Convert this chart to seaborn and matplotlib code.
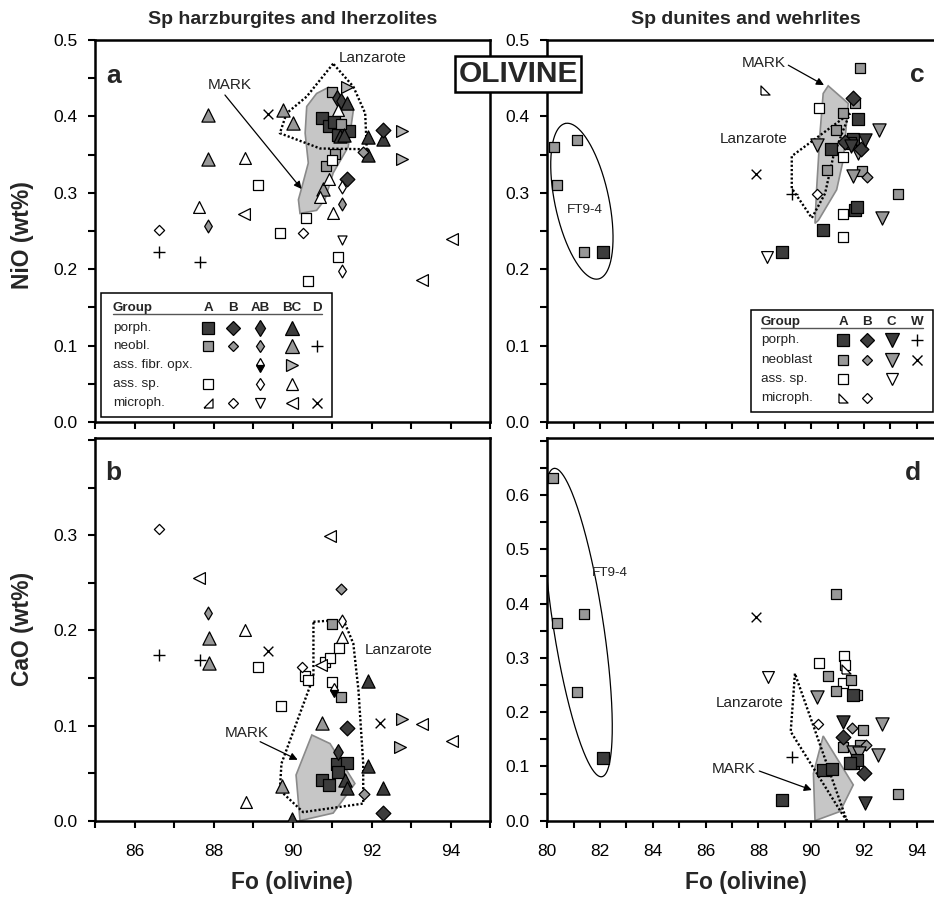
import numpy as np
import pandas as pd
import matplotlib
matplotlib.use("Agg")
import matplotlib.pyplot as plt
import seaborn as sns
from matplotlib.lines import Line2D
from matplotlib.patches import Polygon, Rectangle

sns.set_theme(style="ticks")
plt.rcParams["font.family"] = ["Liberation Sans", "DejaVu Sans"]

# ---------------- data ----------------
# panel a : NiO (wt%) vs Fo, Sp harzburgites and lherzolites
a_group = (["porph A"] * 5 + ["neo A"] * 4 + ["porph AB"] * 2 + ["porph BC"] * 6 + ["porph B"] * 2
           + ["neo BC"] * 5 + ["neo AB"] * 2 + ["neo B"] + ["neo D"] * 2 + ["fibr BC"] * 3
           + ["ssp A"] * 6 + ["ssp AB"] * 2 + ["ssp BC"] * 6 + ["micro B"] * 2 + ["micro AB"]
           + ["micro BC"] * 3 + ["micro D"])
a_fo = [90.74, 90.92, 91.15, 91.42, 91.05,
        90.99, 91.24, 90.86, 91.08,
        91.12, 91.22,
        91.37, 91.20, 91.30, 91.90, 92.30, 91.92,
        92.28, 91.39,
        87.87, 87.87, 89.75, 90.00, 90.78,
        87.87, 91.26,
        91.79,
        86.63, 87.67,
        91.39, 92.78, 92.78,
        89.12, 89.68, 90.33, 90.40, 91.16, 90.99,
        91.26, 91.26,
        88.81, 87.63, 91.03, 90.70, 90.93, 91.16,
        86.63, 90.26,
        91.26,
        88.76, 94.03, 93.27,
        89.39]
a_nio = [0.398, 0.387, 0.376, 0.381, 0.393,
         0.432, 0.390, 0.335, 0.351,
         0.424, 0.420,
         0.417, 0.374, 0.376, 0.373, 0.370, 0.349,
         0.382, 0.318,
         0.402, 0.344, 0.409, 0.392, 0.305,
         0.257, 0.285,
         0.353,
         0.222, 0.209,
         0.438, 0.381, 0.344,
         0.310, 0.248, 0.267, 0.185, 0.216, 0.343,
         0.307, 0.198,
         0.345, 0.281, 0.274, 0.295, 0.318, 0.408,
         0.251, 0.248,
         0.238,
         0.272, 0.240, 0.186,
         0.403]

# panel b : CaO (wt%) vs Fo, Sp harzburgites and lherzolites
b_group = (["ssp A"] * 8 + ["ssp AB"] + ["ssp BC"] * 3 + ["micro B"] * 2 + ["micro BC"] * 5
           + ["micro D"] * 2 + ["neo A"] * 2 + ["neo BC"] * 4 + ["neo AB"] + ["neo B"] * 2
           + ["neo D"] * 2 + ["fibr AB"] + ["fibr BC"] * 2 + ["porph A"] * 5 + ["porph B"] * 2
           + ["porph AB"] + ["porph BC"] * 6)
b_fo = [89.12, 89.70, 90.32, 90.40, 90.82, 90.95, 91.18, 90.99,
        91.25,
        88.80, 88.82, 91.25,
        86.63, 90.25,
        87.64, 90.95, 90.71, 93.27, 94.03,
        89.39, 92.22,
        90.99, 91.24,
        87.89, 87.89, 89.74, 90.75,
        87.87,
        91.22, 91.81,
        86.63, 87.66,
        91.05,
        92.78, 92.72,
        91.12, 91.39, 91.16, 90.74, 90.93,
        91.37, 92.30,
        91.16,
        89.98, 91.33, 91.37, 91.92, 91.92, 92.30]
b_cao = [0.161, 0.120, 0.152, 0.148, 0.167, 0.171, 0.181, 0.146,
         0.210,
         0.200, 0.020, 0.193,
         0.306, 0.161,
         0.255, 0.299, 0.164, 0.102, 0.084,
         0.178, 0.103,
         0.207, 0.130,
         0.192, 0.166, 0.036, 0.103,
         0.218,
         0.243, 0.028,
         0.174, 0.169,
         0.137,
         0.107, 0.077,
         0.060, 0.061, 0.051, 0.043, 0.037,
         0.097, 0.008,
         0.072,
         0.002, 0.043, 0.034, 0.147, 0.057, 0.034]

# panel c : NiO (wt%) vs Fo, Sp dunites and wehrlites
c_group = (["ssp A"] * 4 + ["ssp C"] + ["micro A"] + ["micro B"] + ["neo W"] + ["porph W"]
           + ["neo A"] * 11 + ["neo B"] + ["neo C"] * 5 + ["porph A"] * 9 + ["porph B"] * 3
           + ["porph C"] * 2)
c_fo = [90.29, 91.21, 91.21, 91.21,
        88.33,
        88.24,
        90.23,
        87.89,
        89.26,
        80.25, 81.11, 80.38, 81.39, 91.84, 91.21, 91.66, 90.94, 90.58, 91.91, 93.27,
        92.10,
        92.58, 90.20, 91.78, 91.59, 92.66,
        82.10, 91.76, 90.73, 91.59, 91.66, 91.74, 90.45, 88.90, 91.45,
        91.59, 91.28, 91.90,
        92.03, 91.50]
c_nio = [0.411, 0.347, 0.272, 0.242,
         0.216,
         0.435,
         0.298,
         0.325,
         0.298,
         0.360, 0.369, 0.310, 0.222, 0.463, 0.405, 0.417, 0.382, 0.330, 0.328, 0.299,
         0.321,
         0.382, 0.363, 0.352, 0.322, 0.267,
         0.223, 0.397, 0.357, 0.371, 0.277, 0.282, 0.251, 0.222, 0.365,
         0.424, 0.366, 0.357,
         0.369, 0.361]

# panel d : CaO (wt%) vs Fo, Sp dunites and wehrlites
d_group = (["ssp A"] * 4 + ["ssp C"] + ["micro A"] + ["micro B"] + ["neo W"] + ["porph W"]
           + ["neo A"] * 13 + ["neo B"] * 2 + ["neo C"] * 5 + ["porph A"] * 8 + ["porph B"] * 2
           + ["porph C"] * 2)
d_fo = [90.30, 91.24, 91.28, 91.21,
        88.37,
        91.30,
        90.27,
        87.89,
        89.26,
        80.23, 80.38, 81.39, 81.11, 90.94, 90.64, 91.49, 90.94, 91.72, 91.97, 91.21, 91.84, 93.30,
        91.53, 92.07,
        90.23, 92.66, 91.59, 92.54, 91.80,
        82.10, 91.57, 91.59, 91.72, 91.47, 90.43, 90.77, 88.88,
        91.19, 92.00,
        91.21, 92.03]
d_cao = [0.291, 0.303, 0.287, 0.254,
         0.265,
         0.280,
         0.179,
         0.376,
         0.118,
         0.632, 0.365, 0.380, 0.238, 0.417, 0.266, 0.260, 0.239, 0.231, 0.168, 0.136, 0.139, 0.049,
         0.170, 0.139,
         0.228, 0.179, 0.127, 0.121, 0.124,
         0.115, 0.231, 0.107, 0.111, 0.106, 0.093, 0.095, 0.039,
         0.154, 0.088,
         0.182, 0.032]

# reference fields
a_mark_fo = [90.91, 91.54, 91.41, 91.03, 90.82, 90.61, 90.19, 90.15, 90.23, 90.40, 90.32, 90.36, 90.61]
a_mark_y = [0.438, 0.408, 0.360, 0.326, 0.291, 0.277, 0.273, 0.291, 0.306, 0.339, 0.378, 0.413, 0.430]
a_lanz_fo = [91.03, 90.36, 89.85, 89.68, 90.70, 91.88, 91.84, 91.54]
a_lanz_y = [0.469, 0.426, 0.404, 0.378, 0.358, 0.357, 0.404, 0.439]

b_mark_fo = [90.09, 90.49, 90.95, 91.58, 91.03, 90.19]
b_mark_y = [0.048, 0.090, 0.081, 0.039, 0.008, 0.000]
b_lanz_fo = [90.53, 91.29, 91.54, 91.67, 91.79, 91.79, 90.27, 89.68, 89.72, 90.53]
b_lanz_y = [0.209, 0.211, 0.186, 0.137, 0.060, 0.018, 0.009, 0.032, 0.060, 0.151]

c_mark_fo = [90.64, 91.40, 91.21, 90.96, 90.27, 90.14, 90.20, 90.33, 90.45]
c_mark_y = [0.440, 0.417, 0.343, 0.304, 0.264, 0.260, 0.304, 0.378, 0.430]
c_lanz_fo = [91.46, 89.26, 89.26, 90.02, 90.52, 90.83, 91.21]
c_lanz_y = [0.404, 0.348, 0.306, 0.267, 0.299, 0.347, 0.382]

d_mark_fo = [90.45, 91.59, 91.09, 90.14, 90.08]
d_mark_y = [0.156, 0.066, 0.017, 0.000, 0.087]
d_lanz_fo = [89.38, 89.22, 91.15, 91.34]
d_lanz_y = [0.271, 0.164, 0.014, 0.001]

# ---------------- styles ----------------
DARK = "#3c3c3c"
GRAY = "#989898"
LGRAY = "#b4b4b4"
WHITE = "white"
TRI_A = [(-1, -1), (1, -1), (1, 1), (-1, -1)]
TRI_C = [(-1, -1), (1, -1), (-1, 1), (-1, -1)]
STYLE = {
    "porph A": ("s", DARK, 9.0), "porph B": ("D", DARK, 7.5), "porph AB": ("d", DARK, 8.0),
    "porph BC": ("^", DARK, 9.5), "porph C": ("v", DARK, 9.5), "porph W": ("+", "black", 9.0),
    "neo A": ("s", GRAY, 7.0), "neo B": ("D", GRAY, 5.5), "neo AB": ("d", GRAY, 6.5),
    "neo BC": ("^", GRAY, 9.5), "neo C": ("v", GRAY, 9.5), "neo D": ("+", "black", 9.0),
    "neo W": ("x", "black", 7.0),
    "fibr AB": ("d", "black", 7.0), "fibr BC": (">", LGRAY, 8.5),
    "ssp A": ("s", WHITE, 7.0), "ssp AB": ("d", WHITE, 6.5), "ssp BC": ("^", WHITE, 8.5),
    "ssp C": ("v", WHITE, 8.5),
    "micro A": (TRI_C, WHITE, 6.5), "micro A2": (TRI_A, WHITE, 6.5), "micro B": ("D", WHITE, 5.2),
    "micro AB": ("v", WHITE, 6.5), "micro BC": ("<", WHITE, 8.5), "micro D": ("x", "black", 7.0),
}

W, H = 934, 897
fig = plt.figure(figsize=(W / 100, H / 100), dpi=100)


def axes_px(l, t, r, b):
    return fig.add_axes([l / W, 1 - b / H, (r - l) / W, (b - t) / H])


ax_a = axes_px(95, 40, 490, 422)
ax_b = axes_px(95, 438, 490, 820.7)
ax_c = axes_px(547.3, 40, 943.3, 422)
ax_d = axes_px(547.3, 438, 943.3, 820.7)


def draw_points(ax, groups, xs, ys):
    df = pd.DataFrame({"g": groups, "x": xs, "y": ys})
    for g, sub in df.groupby("g", sort=False):
        mk, fc, ms = STYLE[g]
        if g == "fibr AB":
            ax.plot(sub["x"], sub["y"], ls="none", marker="d", ms=ms, mfc="black",
                    mfcalt="white", fillstyle="bottom", mec="black", mew=0.9, zorder=3)
        elif mk in ("+", "x"):
            sns.scatterplot(data=sub, x="x", y="y", ax=ax, marker=mk, s=ms ** 2,
                            color="black", linewidth=1.0, zorder=3, legend=False)
        else:
            sns.scatterplot(data=sub, x="x", y="y", ax=ax, marker=mk, s=ms ** 2,
                            color=fc, edgecolor="black", linewidth=0.9, zorder=3, legend=False)


def draw_fields(ax, mfo, my, lfo, ly):
    ax.add_patch(Polygon(np.column_stack([mfo, my]), closed=True, fc="#c6c6c6",
                         ec="#8a8a8a", lw=1.2, zorder=1))
    ax.plot(list(lfo) + [lfo[0]], list(ly) + [ly[0]], color="black", lw=1.7,
            ls=(0, (0.9, 0.9)), zorder=2.5)


draw_fields(ax_a, a_mark_fo, a_mark_y, a_lanz_fo, a_lanz_y)
draw_fields(ax_b, b_mark_fo, b_mark_y, b_lanz_fo, b_lanz_y)
draw_fields(ax_c, c_mark_fo, c_mark_y, c_lanz_fo, c_lanz_y)
draw_fields(ax_d, d_mark_fo, d_mark_y, d_lanz_fo, d_lanz_y)

draw_points(ax_a, a_group, a_fo, a_nio)
draw_points(ax_b, b_group, b_fo, b_cao)
draw_points(ax_c, c_group, c_fo, c_nio)
draw_points(ax_d, d_group, d_fo, d_cao)


def setup(ax, xlim, ylim, xt, xl, yt, yl):
    ax.set_xlim(xlim)
    ax.set_ylim(ylim)
    ax.set_xticks(xt)
    ax.set_xticklabels(xl)
    ax.set_yticks(yt)
    ax.set_yticklabels(yl)
    ax.tick_params(axis="both", direction="out", length=5, width=1.5, color="black",
                   labelsize=12.5, labelcolor="black")
    ax.tick_params(axis="y", pad=7.5)
    ax.tick_params(axis="x", pad=12)
    for s in ax.spines.values():
        s.set_linewidth(1.8)
        s.set_color("black")
        s.set_visible(True)
    ax.set_xlabel("")
    ax.set_ylabel("")
    ax.grid(False)


def lab(vals, every, fmt):
    return [fmt.format(v) if i % every == 0 else "" for i, v in enumerate(vals)]


xt1 = list(range(85, 96))
xt2 = list(range(80, 96))
y5 = [round(0.05 * i, 2) for i in range(11)]
y4 = [round(0.05 * i, 2) for i in range(9)]
y7 = [round(0.05 * i, 2) for i in range(15)]
yl5 = lab(y5, 2, "{:.1f}")
yl4 = lab(y4, 2, "{:.1f}")
yl4[-1] = ""
yl7 = lab(y7, 2, "{:.1f}")
yl7[-1] = ""
setup(ax_a, (85, 95), (0, 0.5), xt1, [""] * len(xt1), y5, yl5)
setup(ax_b, (85, 95), (0, 0.402), xt1, [str(v) if v % 2 == 0 else "" for v in xt1], y4, yl4)
setup(ax_c, (80, 95), (0, 0.5), xt2, [""] * len(xt2), y5, yl5)
setup(ax_d, (80, 95), (0, 0.705), xt2, [str(v) if (v % 2 == 0 and v < 95) else "" for v in xt2], y7, yl7)


def ellipse(ax, cx, cy, a_px, b_px, ang):
    ctr = ax.transData.transform((cx, cy))
    t = np.linspace(0, 2 * np.pi, 300)
    th = np.deg2rad(ang)
    ex, ey = a_px * np.cos(t), b_px * np.sin(t)
    X = ctr[0] + ex * np.cos(th) - ey * np.sin(th)
    Y = ctr[1] + ex * np.sin(th) + ey * np.cos(th)
    pts = ax.transData.inverted().transform(np.column_stack([X, Y]))
    ax.plot(pts[:, 0], pts[:, 1], color="black", lw=0.9, zorder=2)


ellipse(ax_c, 81.31, 0.289, 79.5, 27.0, 102)
ellipse(ax_d, 81.16, 0.365, 156.0, 25.0, 98.8)

TXT = dict(fontsize=11, color="#222222", ha="center", va="center", zorder=6)
ARW = dict(arrowstyle="-|>", color="black", lw=0.9, mutation_scale=11, shrinkA=0, shrinkB=0)

ax_a.text(92.04, 0.476, "Lanzarote", **TXT)
ax_a.text(88.42, 0.441, "MARK", **TXT)
ax_a.annotate("", xy=(90.23, 0.305), xytext=(88.29, 0.428), arrowprops=ARW)
ax_b.text(92.68, 0.179, "Lanzarote", **TXT)
ax_b.text(88.84, 0.092, "MARK", **TXT)
ax_b.annotate("", xy=(90.13, 0.064), xytext=(89.18, 0.083), arrowprops=ARW)
ax_c.text(87.80, 0.371, "Lanzarote", **TXT)
ax_c.text(88.18, 0.470, "MARK", **TXT)
ax_c.annotate("", xy=(90.48, 0.441), xytext=(89.13, 0.467), arrowprops=ARW)
ax_c.text(81.43, 0.277, "FT9-4", fontsize=9.7, color="#222222", ha="center", va="center")
ax_d.text(87.68, 0.216, "Lanzarote", **TXT)
ax_d.text(87.05, 0.095, "MARK", **TXT)
ax_d.annotate("", xy=(90.02, 0.0565), xytext=(88.03, 0.0915), arrowprops=ARW)
ax_d.text(82.37, 0.457, "FT9-4", fontsize=9.7, color="#222222", ha="center", va="center")

PL = dict(fontsize=19, fontweight="bold", ha="center", va="center", transform=fig.transFigure)
for (px, py, s) in [(114, 76, "a"), (113, 473, "b"), (917, 75, "c"), (913, 473, "d")]:
    fig.text(px / W, 1 - py / H, s, **PL)

fig.text(292.5 / W, 1 - 20 / H, "Sp harzburgites and lherzolites", fontsize=14,
         fontweight="bold", ha="center", va="center")
fig.text(746 / W, 1 - 20 / H, "Sp dunites and wehrlites", fontsize=14,
         fontweight="bold", ha="center", va="center")
fig.text(23 / W, 1 - 235 / H, "NiO (wt%)", fontsize=16.5, fontweight="bold",
         rotation=90, ha="center", va="center")
fig.text(23 / W, 1 - 629 / H, "CaO (wt%)", fontsize=16.5, fontweight="bold",
         rotation=90, ha="center", va="center")
fig.text(291.5 / W, 1 - 882 / H, "Fo (olivine)", fontsize=16.5, fontweight="bold",
         ha="center", va="center")
fig.text(746 / W, 1 - 882 / H, "Fo (olivine)", fontsize=16.5, fontweight="bold",
         ha="center", va="center")
fig.text(518 / W, 1 - 74 / H, "OLIVINE", fontsize=21.5, fontweight="bold", ha="center",
         va="center", zorder=20,
         bbox=dict(boxstyle="square,pad=0.12", fc="white", ec="black", lw=1.8))


# ---------------- legends (tables) ----------------
def fxy(px, py):
    return px / W, 1 - py / H


def leg_marker(g, px, py):
    mk, fc, ms = STYLE[g]
    x, y = fxy(px, py)
    if g == "fibr AB":
        ln = Line2D([x], [y], ls="none", marker="d", ms=ms, mfc="black", mfcalt="white",
                    fillstyle="bottom", mec="black", mew=0.9)
    elif mk in ("+", "x"):
        ln = Line2D([x], [y], ls="none", marker=mk, ms=ms, mec="black", mew=1.0)
    else:
        ln = Line2D([x], [y], ls="none", marker=mk, ms=ms, mfc=fc, mec="black", mew=0.9)
    ln.set_transform(fig.transFigure)
    ln.set_zorder(12)
    fig.add_artist(ln)


def table(box, hy, ul, cols, rows, labx):
    l, t, r, b = box
    fig.add_artist(Rectangle(fxy(l, b), (r - l) / W, (b - t) / H, transform=fig.transFigure,
                             fc="white", ec="black", lw=1.1, zorder=11))
    fig.text(*fxy(labx, hy), "Group", fontsize=9.6, fontweight="bold", ha="left",
             va="center", zorder=12)
    for name, cx in cols:
        fig.text(*fxy(cx, hy), name, fontsize=9.6, fontweight="bold", ha="center",
                 va="center", zorder=12)
    fig.add_artist(Line2D([labx / W, ul / W], [1 - (hy + 6.6) / H] * 2, color="#555555",
                          lw=1.0, transform=fig.transFigure, zorder=12))
    colx = dict(cols)
    for label, ry, entries in rows:
        fig.text(*fxy(labx, ry), label, fontsize=9.7, ha="left", va="center",
                 color="#222222", zorder=12)
        for cname, g in entries:
            leg_marker(g, colx[cname], ry)


table((101, 292.7, 332.3, 416.7), 307.7, 322.3,
      [("A", 208.3), ("B", 233.3), ("AB", 260), ("BC", 291.7), ("D", 317.3)],
      [("porph.", 328.3, [("A", "porph A"), ("B", "porph B"), ("AB", "porph AB"), ("BC", "porph BC")]),
       ("neobl.", 345.7, [("A", "neo A"), ("B", "neo B"), ("AB", "neo AB"), ("BC", "neo BC"), ("D", "neo D")]),
       ("ass. fibr. opx.", 365, [("AB", "fibr AB"), ("BC", "fibr BC")]),
       ("ass. sp.", 384, [("A", "ssp A"), ("AB", "ssp AB"), ("BC", "ssp BC")]),
       ("microph.", 402.7, [("A", "micro A2"), ("B", "micro B"), ("AB", "micro AB"), ("BC", "micro BC"), ("D", "micro D")])],
      112.7)

table((750.7, 310, 932.5, 411.7), 321.7, 923.3,
      [("A", 843.3), ("B", 866.7), ("C", 891.7), ("W", 917.3)],
      [("porph.", 340, [("A", "porph A"), ("B", "porph B"), ("C", "porph C"), ("W", "porph W")]),
       ("neoblast", 360, [("A", "neo A"), ("B", "neo B"), ("C", "neo C"), ("W", "neo W")]),
       ("ass. sp.", 379, [("A", "ssp A"), ("C", "ssp C")]),
       ("microph.", 397.7, [("A", "micro A"), ("B", "micro B")])],
      760.7)

fig.savefig("out.png", dpi=100)
